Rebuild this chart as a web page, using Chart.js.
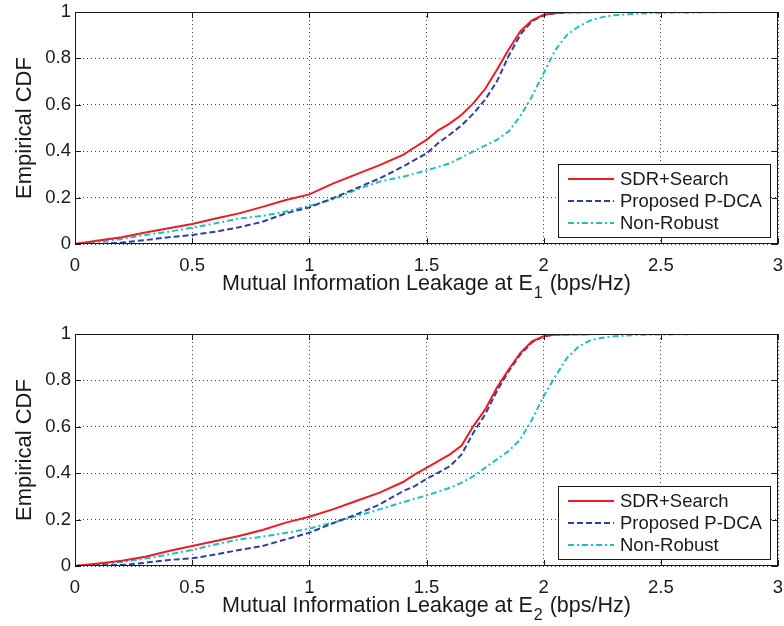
<!DOCTYPE html>
<html>
<head>
<meta charset="utf-8">
<title>Empirical CDF of mutual information leakage</title>
<script src="https://cdn.jsdelivr.net/npm/chart.js@4.4.1/dist/chart.umd.min.js"></script>
<style>
  html, body { margin: 0; padding: 0; background: #fff; }
  .panel { position: absolute; left: 0; width: 784px; height: 300px; }
</style>
</head>
<body>
<div class="panel" style="top:0"><canvas id="cdfE1"></canvas></div>
<div class="panel" style="top:322px"><canvas id="cdfE2"></canvas></div>
<script>
/* ===== Data ===== */
const X_TICKS = [0, 0.5, 1, 1.5, 2, 2.5, 3];
const Y_TICKS = [0, 0.2, 0.4, 0.6, 0.8, 1];
const SERIES_LABELS = ['SDR+Search', 'Proposed P-DCA', 'Non-Robust'];

// Eavesdropper E1
const E1_SDR_X  = [0, 0.1, 0.2, 0.3, 0.4, 0.5, 0.6, 0.7, 0.8, 0.9, 1.0, 1.1, 1.2, 1.3, 1.4, 1.45, 1.5, 1.55, 1.6, 1.65, 1.7, 1.75, 1.8, 1.85, 1.9, 1.95, 2.0, 2.05, 2.1, 2.3];
const E1_SDR_Y  = [0, 0.015, 0.029, 0.05, 0.068, 0.086, 0.11, 0.132, 0.16, 0.19, 0.214, 0.26, 0.30, 0.34, 0.384, 0.417, 0.449, 0.49, 0.52, 0.557, 0.607, 0.668, 0.75, 0.837, 0.916, 0.964, 0.988, 0.996, 0.999, 1.0];
const E1_PDCA_X = E1_SDR_X;
const E1_PDCA_Y = [0, 0.0, 0.006, 0.017, 0.029, 0.039, 0.053, 0.072, 0.096, 0.132, 0.158, 0.197, 0.24, 0.283, 0.334, 0.363, 0.39, 0.435, 0.472, 0.512, 0.562, 0.622, 0.70, 0.809, 0.902, 0.96, 0.986, 0.995, 0.999, 1.0];
const E1_NR_X   = [0, 0.1, 0.2, 0.3, 0.4, 0.5, 0.6, 0.7, 0.8, 0.9, 1.0, 1.1, 1.2, 1.3, 1.4, 1.5, 1.6, 1.7, 1.8, 1.85, 1.9, 1.95, 2.0, 2.05, 2.1, 2.15, 2.2, 2.25, 2.3, 2.4, 2.5, 2.85];
const E1_NR_Y   = [0, 0.01, 0.022, 0.039, 0.053, 0.07, 0.089, 0.11, 0.121, 0.14, 0.164, 0.193, 0.233, 0.269, 0.29, 0.317, 0.348, 0.399, 0.449, 0.485, 0.55, 0.636, 0.737, 0.837, 0.902, 0.938, 0.964, 0.978, 0.986, 0.993, 0.997, 1.0];

// Eavesdropper E2
const E2_SDR_X  = [0, 0.1, 0.2, 0.3, 0.4, 0.5, 0.6, 0.7, 0.8, 0.9, 1.0, 1.1, 1.2, 1.3, 1.4, 1.45, 1.5, 1.55, 1.6, 1.65, 1.7, 1.75, 1.8, 1.85, 1.9, 1.95, 2.0, 2.05, 2.25];
const E2_SDR_Y  = [0, 0.011, 0.023, 0.04, 0.065, 0.086, 0.108, 0.129, 0.155, 0.187, 0.212, 0.244, 0.28, 0.316, 0.362, 0.395, 0.423, 0.452, 0.481, 0.519, 0.603, 0.674, 0.768, 0.846, 0.918, 0.968, 0.99, 0.998, 1.0];
const E2_PDCA_X = E2_SDR_X;
const E2_PDCA_Y = [0, 0.003, 0.004, 0.014, 0.026, 0.033, 0.05, 0.069, 0.086, 0.115, 0.143, 0.184, 0.222, 0.265, 0.323, 0.344, 0.376, 0.402, 0.43, 0.481, 0.574, 0.653, 0.753, 0.839, 0.911, 0.964, 0.99, 0.998, 1.0];
const E2_NR_X   = [0, 0.1, 0.2, 0.3, 0.4, 0.5, 0.6, 0.7, 0.8, 0.9, 1.0, 1.1, 1.2, 1.3, 1.4, 1.5, 1.6, 1.65, 1.7, 1.75, 1.8, 1.85, 1.9, 1.95, 2.0, 2.05, 2.1, 2.15, 2.2, 2.25, 2.3, 2.4, 2.5, 2.68];
const E2_NR_Y   = [0, 0.007, 0.017, 0.032, 0.05, 0.069, 0.093, 0.115, 0.126, 0.143, 0.161, 0.187, 0.215, 0.244, 0.275, 0.304, 0.337, 0.359, 0.387, 0.423, 0.459, 0.495, 0.545, 0.631, 0.732, 0.818, 0.897, 0.947, 0.973, 0.984, 0.99, 0.996, 0.998, 1.0];


/* ===== Styles ===== */
const FONT = '"Liberation Sans", Arial, Helvetica, sans-serif';
const INK  = '#1a1a1a';
const LINE_STYLES = [
  { color: '#ec1c24', dash: [] },
  { color: '#2f3f9e', dash: [6, 3] },
  { color: '#21bfc0', dash: [6, 3, 2, 3] },
];

// canvas-space placement of the axes box (same for both panels)
const AREA = { left: 75, right: 778, top: 12, bottom: 244 };
const CANVAS_W = 784, CANVAS_H = 300;

function pts(xs, ys) {
  return xs.map((x, i) => ({ x, y: ys[i] }));
}

/* ===== Frame, inward ticks, legend and x title ===== */
const matlabAxes = {
  id: 'matlabAxes',
  afterDraw(chart, args, opts) {
    const { ctx, chartArea: a, scales } = chart;
    ctx.save();

    // axes box
    ctx.strokeStyle = INK;
    ctx.lineWidth = 1;
    ctx.setLineDash([]);
    ctx.strokeRect(a.left + 0.5, a.top + 0.5, a.right - a.left - 1, a.bottom - a.top - 1);

    // inward tick marks on all four sides
    const T = 6;
    ctx.beginPath();
    X_TICKS.forEach(v => {
      const px = Math.round(scales.x.getPixelForValue(v)) + 0.5;
      ctx.moveTo(px, a.bottom); ctx.lineTo(px, a.bottom - T);
      ctx.moveTo(px, a.top);    ctx.lineTo(px, a.top + T);
    });
    Y_TICKS.forEach(v => {
      const py = Math.round(scales.y.getPixelForValue(v)) + 0.5;
      ctx.moveTo(a.left, py);  ctx.lineTo(a.left + T, py);
      ctx.moveTo(a.right, py); ctx.lineTo(a.right - T, py);
    });
    ctx.stroke();

    // legend box, bottom-right inside the axes
    const bw = 212, bh = 73;
    const bx = a.right - 8 - bw, by = a.bottom - 7 - bh;
    ctx.fillStyle = '#fff';
    ctx.fillRect(bx, by, bw, bh);
    ctx.strokeRect(bx + 0.5, by + 0.5, bw, bh);
    ctx.font = '18.5px ' + FONT;
    ctx.textBaseline = 'middle';
    ctx.textAlign = 'left';
    chart.data.datasets.forEach((ds, i) => {
      const y = by + 15 + i * 22;
      ctx.strokeStyle = ds.borderColor;
      ctx.lineWidth = 2;
      ctx.setLineDash(ds.borderDash || []);
      ctx.beginPath();
      ctx.moveTo(bx + 10, y); ctx.lineTo(bx + 56, y);
      ctx.stroke();
      ctx.fillStyle = INK;
      ctx.fillText(ds.label, bx + 62, y + 1);
    });

    // x axis title with subscript
    const [pre, sub, post] = opts.xTitle;
    const mainFont = '21.5px ' + FONT;
    const subFont = '16px ' + FONT;
    ctx.fillStyle = INK;
    ctx.font = mainFont;
    const w1 = ctx.measureText(pre).width;
    const w3 = ctx.measureText(post).width;
    ctx.font = subFont;
    const w2 = ctx.measureText(sub).width + 2;
    let x = (a.left + a.right) / 2 - (w1 + w2 + w3) / 2;
    const yb = a.bottom + 46;
    ctx.textBaseline = 'alphabetic';
    ctx.font = mainFont;
    ctx.fillText(pre, x, yb);
    x += w1;
    ctx.font = subFont;
    ctx.fillText(sub, x + 1, yb + 8);
    x += w2;
    ctx.font = mainFont;
    ctx.fillText(post, x, yb);

    ctx.restore();
  },
};

function makeChart(canvasId, sets, sub) {
  const datasets = sets.map(([xs, ys], i) => ({
    label: SERIES_LABELS[i],
    data: pts(xs, ys),
    borderColor: LINE_STYLES[i].color,
    borderDash: LINE_STYLES[i].dash,
    borderWidth: 2,
    pointRadius: 0,
    tension: 0,
    fill: false,
  }));

  return new Chart(document.getElementById(canvasId), {
    type: 'line',
    data: { datasets },
    plugins: [matlabAxes],
    options: {
      responsive: true,
      maintainAspectRatio: false,
      animation: false,
      layout: { padding: { top: AREA.top, right: CANVAS_W - AREA.right, left: 0, bottom: 0 } },
      plugins: {
        legend: { display: false },
        tooltip: { enabled: false },
        matlabAxes: { xTitle: ['Mutual Information Leakage at E', sub, ' (bps/Hz)'] },
      },
      scales: {
        x: {
          type: 'linear',
          min: 0, max: 3,
          afterBuildTicks: s => { s.ticks = X_TICKS.map(v => ({ value: v })); },
          afterFit: s => {
            s.height = CANVAS_H - AREA.bottom;
            s.paddingLeft = 0; s.paddingRight = 0;
          },
          ticks: {
            color: INK, font: { family: FONT, size: 18.5 }, padding: 11, maxRotation: 0,
            callback: v => String(v),
          },
          grid: { color: '#444', lineWidth: 1, drawTicks: false },
          border: { display: false, dash: [1, 3] },
        },
        y: {
          type: 'linear',
          min: 0, max: 1,
          afterBuildTicks: s => { s.ticks = Y_TICKS.map(v => ({ value: v })); },
          afterFit: s => {
            s.width = AREA.left;
            s.paddingTop = 0; s.paddingBottom = 0;
          },
          ticks: {
            color: INK, font: { family: FONT, size: 18.5 }, padding: 4,
            callback: v => String(v),
          },
          grid: { color: '#444', lineWidth: 1, drawTicks: false },
          border: { display: false, dash: [1, 3] },
          title: {
            display: true,
            text: 'Empirical CDF',
            color: INK,
            font: { family: FONT, size: 22 },
            padding: { top: 12, bottom: 0 },
          },
        },
      },
    },
  });
}

makeChart('cdfE1', [[E1_SDR_X, E1_SDR_Y], [E1_PDCA_X, E1_PDCA_Y], [E1_NR_X, E1_NR_Y]], '1');
makeChart('cdfE2', [[E2_SDR_X, E2_SDR_Y], [E2_PDCA_X, E2_PDCA_Y], [E2_NR_X, E2_NR_Y]], '2');
</script>
</body>
</html>
